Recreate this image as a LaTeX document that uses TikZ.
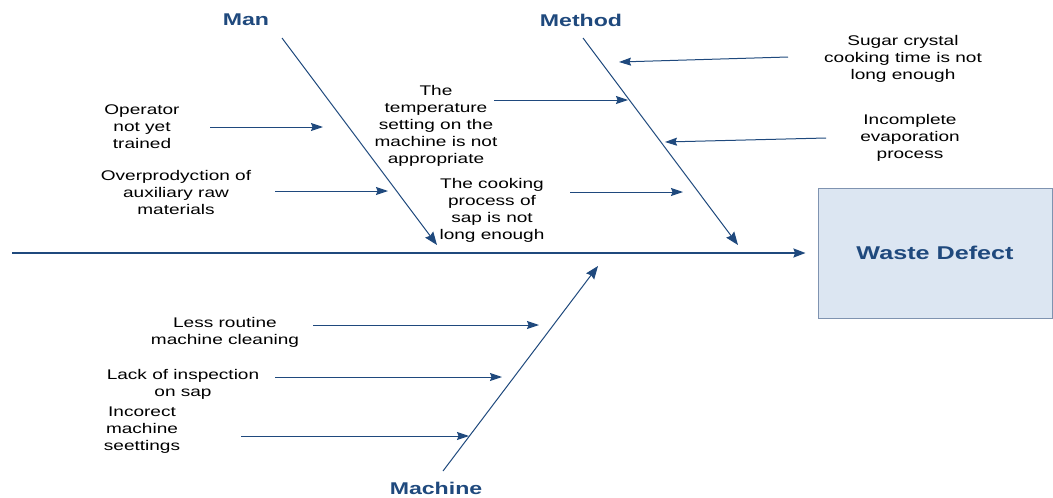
\documentclass[tikz,border=0pt]{standalone}
\usepackage{fontspec}
\setmainfont{Liberation Sans}[FakeStretch=1.36]
\usepackage{xcolor}
\usetikzlibrary{arrows.meta, positioning}
\definecolor{bonecol}{HTML}{1F497D}
\definecolor{boxfill}{HTML}{DCE6F2}
\definecolor{boxline}{HTML}{7F93B0}

\begin{document}
\begin{tikzpicture}[x=1pt, y=-1pt,
  cause/.style={font=\fontsize{14}{17}\selectfont, align=center, inner sep=0pt, text=black},
  category/.style={font=\fontsize{17}{20}\selectfont\bfseries, text=bonecol, inner sep=0pt},
  effect/.style={draw=boxline, line width=1pt, fill=boxfill, minimum width=234pt, minimum height=130pt,
                 font=\fontsize{18.5}{22}\selectfont\bfseries, text=bonecol},
  spine/.style={-{Stealth[length=12pt,width=9pt,inset=1.5pt]}, line width=1.8pt, draw=bonecol},
  bone/.style={-{Stealth[length=13pt,width=10pt,inset=1.5pt]}, line width=1pt, draw=bonecol},
  arrow/.style={-{Stealth[length=12pt,width=8pt,inset=1.5pt]}, line width=1pt, draw=bonecol}
]
  \useasboundingbox (0,0) rectangle (1053,498);

  \node[effect] (defect) at (935,253) {Waste Defect};
  \node[category] (man)     at (246,20)  {Man};
  \node[category] (method)  at (581,20)  {Method};
  \node[category] (machine) at (436,488) {Machine};

  \node[cause] (operator) at (142,127) {Operator\\not yet\\trained};
  \node[cause] (overprod) at (176,192) {Overprodyction of\\auxiliary raw\\materials};
  \node[cause] (temp)     at (436,126) {The\\temperature\\setting on the\\machine is not\\appropriate};
  \node[cause] (cooking)  at (492,210) {The cooking\\process of\\sap is not\\long enough};
  \node[cause] (sugar)    at (903,59)  {Sugar crystal\\cooking time is not\\long enough};
  \node[cause] (evap)     at (910,138) {Incomplete\\evaporation\\process};
  \node[cause] (cleaning) at (225,332) {Less routine\\machine cleaning};
  \node[cause] (inspect)  at (183,384) {Lack of inspection\\on sap};
  \node[cause] (settings) at (142,430) {Incorect\\machine\\seettings};

  \coordinate (tail)       at (12,253);
  \coordinate (man-top)    at (282,38);
  \coordinate (man-tip)    at (437,245);
  \coordinate (method-top) at (583,38);
  \coordinate (method-tip) at (738,245);
  \coordinate (mach-bot)   at (443,471);
  \coordinate (mach-tip)   at (598,266);

  \coordinate (operator-a) at (210,127);  \coordinate (operator-b) at (323,127);
  \coordinate (overprod-a) at (275,191);  \coordinate (overprod-b) at (388,191);
  \coordinate (temp-a)     at (494,100);  \coordinate (temp-b)     at (628,100);
  \coordinate (cooking-a)  at (570,192);  \coordinate (cooking-b)  at (683,192);
  \coordinate (sugar-a)    at (788,57);   \coordinate (sugar-b)    at (619,62);
  \coordinate (evap-a)     at (826,138);  \coordinate (evap-b)     at (665,142);
  \coordinate (cleaning-a) at (313,325);  \coordinate (cleaning-b) at (539,325);
  \coordinate (inspect-a)  at (275,377);  \coordinate (inspect-b)  at (502,377);
  \coordinate (settings-a) at (241,436);  \coordinate (settings-b) at (469,436);

  \draw[spine, shorten >=12pt] (tail) -- (defect);
  \draw[bone] (man-top)    -- (man-tip);
  \draw[bone] (method-top) -- (method-tip);
  \draw[bone] (mach-bot)   -- (mach-tip);

  \draw[arrow] (operator-a) -- (operator-b);
  \draw[arrow] (overprod-a) -- (overprod-b);
  \draw[arrow] (temp-a)     -- (temp-b);
  \draw[arrow] (cooking-a)  -- (cooking-b);
  \draw[arrow] (sugar-a)    -- (sugar-b);
  \draw[arrow] (evap-a)     -- (evap-b);
  \draw[arrow] (cleaning-a) -- (cleaning-b);
  \draw[arrow] (inspect-a)  -- (inspect-b);
  \draw[arrow] (settings-a) -- (settings-b);
\end{tikzpicture}
\end{document}
